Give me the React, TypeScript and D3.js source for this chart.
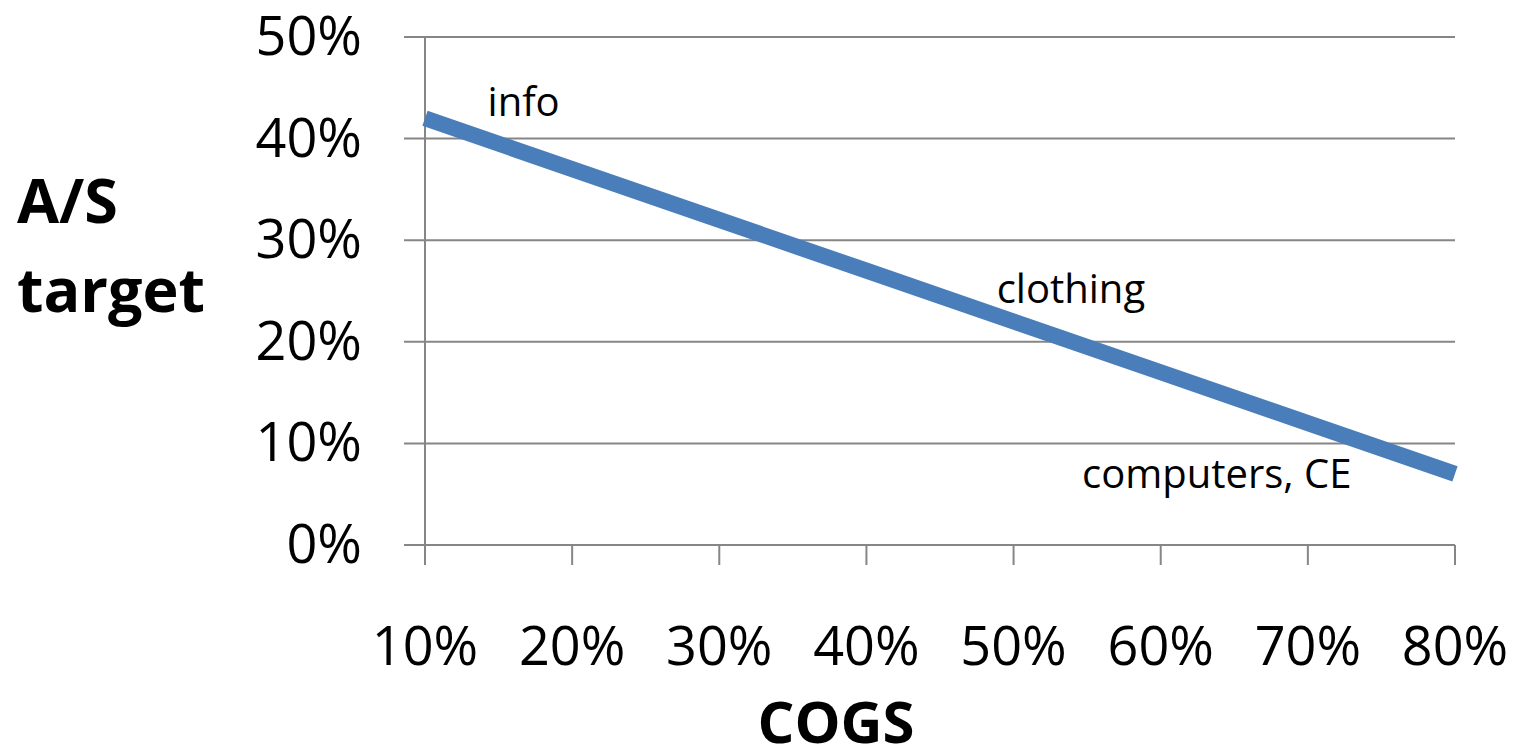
import React from "react";
import * as d3 from "d3";

const cogs = [0.1, 0.2, 0.3, 0.4, 0.5, 0.6, 0.7, 0.8];
const asTarget = [0.42, 0.37, 0.32, 0.27, 0.22, 0.17, 0.12, 0.07];
const yTicks = [0, 0.1, 0.2, 0.3, 0.4, 0.5];
const labels = [
  { text: "info", x: 0.1425, y: 0.422 },
  { text: "clothing", x: 0.4885, y: 0.238 },
  { text: "computers, CE", x: 0.5465, y: 0.056 },
];

const W = 1517;
const H = 749;
const FONT = "'Open Sans', 'Liberation Sans', sans-serif";
const GRID = "#868686";

export default function App() {
  const x = d3.scaleLinear().domain([0.1, 0.8]).range([425, 1455]);
  const y = d3.scaleLinear().domain([0, 0.5]).range([545, 37]);
  const pct = d3.format(".0%");
  const line = d3
    .line<number>()
    .x((_, i) => x(cogs[i]))
    .y((d) => y(d));

  return (
    <svg
      width={W}
      height={H}
      style={{ position: "absolute", left: 0, top: 0, background: "#fff" }}
      fontFamily={FONT}
    >
      {yTicks.map((t) => (
        <g key={"y" + t}>
          <line x1={404} x2={1455} y1={y(t)} y2={y(t)} stroke={GRID} strokeWidth={2} />
          <text x={362} y={y(t) + 18} textAnchor="end" fontSize={54} fill="#000">
            {pct(t)}
          </text>
        </g>
      ))}
      <line x1={425} x2={425} y1={y(0.5)} y2={565} stroke={GRID} strokeWidth={2} />
      {cogs.map((c) => (
        <g key={"x" + c}>
          <line x1={x(c)} x2={x(c)} y1={545} y2={565} stroke={GRID} strokeWidth={2} />
          <text x={x(c)} y={665} textAnchor="middle" fontSize={54} fill="#000">
            {pct(c)}
          </text>
        </g>
      ))}
      <path d={line(asTarget) || ""} fill="none" stroke="#4a7ebb" strokeWidth={16} />
      {labels.map((l) => (
        <text key={l.text} x={x(l.x)} y={y(l.y)} fontSize={40} fill="#000">
          {l.text}
        </text>
      ))}
      <text x={17} y={223} fontSize={61} fontWeight="bold" fill="#000">
        A/S
      </text>
      <text x={17} y={312} fontSize={61} fontWeight="bold" fill="#000">
        target
      </text>
      <text x={836} y={743} textAnchor="middle" fontSize={58} fontWeight="bold" fill="#000">
        COGS
      </text>
    </svg>
  );
}
